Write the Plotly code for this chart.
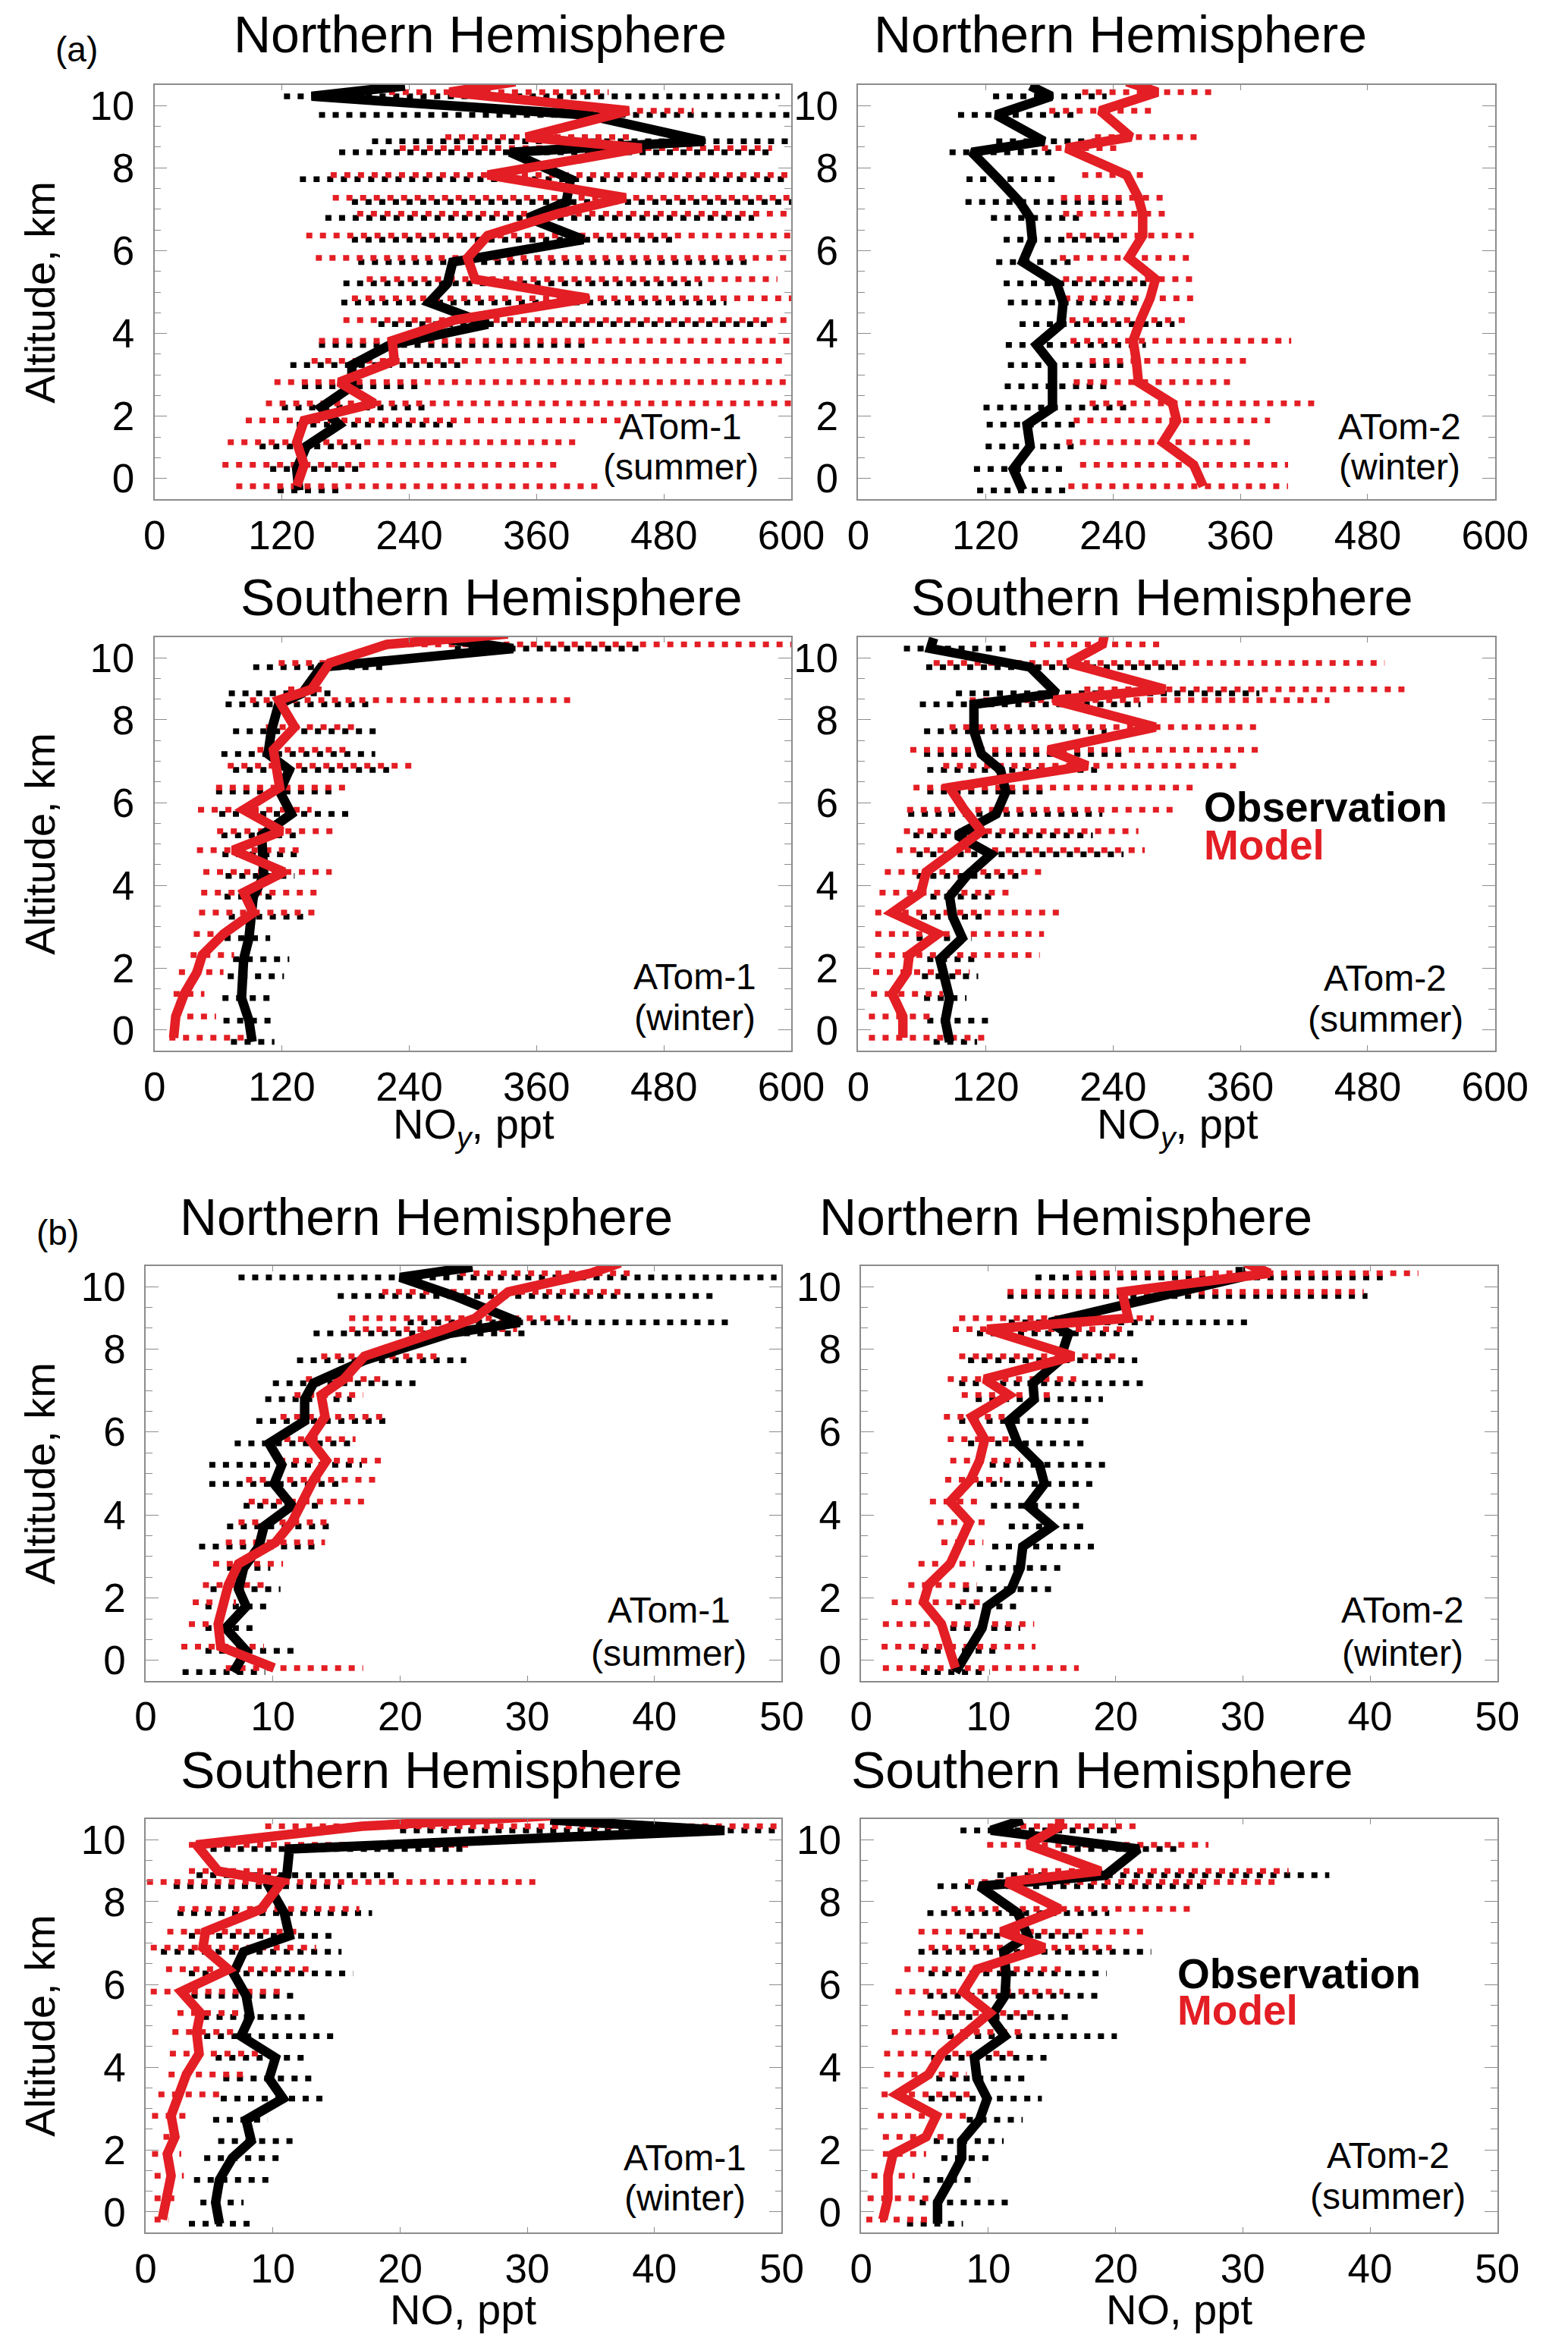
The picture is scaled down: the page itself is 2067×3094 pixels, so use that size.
import plotly.graph_objects as go
from plotly.subplots import make_subplots

W, H = 2067, 3094

# profile levels in plot units (bottom -> top); the axis labels 0..10 km sit at 0,3,7,11,15,18
LEVELS = [-0.47, 0.56, 1.65, 2.7, 3.53, 4.55, 5.58, 6.55, 7.55, 8.6,
          9.52, 10.55, 11.63, 12.68, 13.45, 14.55, 15.85, 16.38, 17.65, 18.55]
TOP_LEVEL = 19.05
ALT_TICKS = [0, 3, 7, 11, 15, 18]
ALT_LABELS = ["0", "2", "4", "6", "8", "10"]

NOY_TICKS = [0, 120, 240, 360, 480, 600]
NO_TICKS = [0, 10, 20, 30, 40, 50]

# ---- (a) NOy, ppt ----
# NH, ATom-1 (summer)
a_nh1_obs = [136, 134, 143, 174, 157, 186, 186, 222, 314, 259, 276, 281, 404, 352, 388, 392, 335, 518, 407, 148, 236]
a_nh1_mod = [134, 141, 134, 141, 207, 174, 226, 224, 283, 409, 302, 295, 314, 380, 444, 314, 459, 350, 447, 278, 340]
a_nh1_obs_lo = [116, 109, 99, 134, 120, 139, 128, 155, 211, 176, 178, 192, 186, 161, 186, 137, 174, 205, 155, 122]
a_nh1_obs_hi = [174, 193, 198, 281, 255, 248, 288, 409, 584, 539, 516, 565, 490, 565, 600, 600, 584, 600, 600, 589]
a_nh1_mod_lo = [77, 64, 69, 86, 105, 113, 148, 155, 178, 186, 200, 152, 143, 191, 168, 166, 231, 274, 326, 221]
a_nh1_mod_hi = [423, 380, 397, 444, 600, 596, 596, 600, 600, 600, 587, 600, 600, 600, 600, 600, 582, 454, 508, 428]

# NH, ATom-2 (winter)
a_nh2_obs = [155, 146, 162, 159, 183, 183, 183, 168, 191, 193, 187, 155, 164, 162, 152, 132, 107, 175, 130, 182, 162]
a_nh2_mod = [325, 316, 287, 300, 296, 264, 262, 259, 266, 275, 280, 255, 268, 268, 264, 253, 196, 257, 228, 282, 253]
a_nh2_obs_lo = [112, 109, 120, 121, 118, 138, 141, 139, 152, 141, 137, 130, 137, 125, 101, 102, 86, 130, 94, 127]
a_nh2_obs_hi = [200, 198, 205, 209, 257, 234, 253, 271, 298, 269, 275, 207, 246, 214, 253, 192, 184, 232, 203, 234]
a_nh2_mod_lo = [198, 209, 196, 203, 218, 203, 218, 200, 199, 194, 193, 190, 196, 193, 191, 211, 173, 223, 180, 211]
a_nh2_mod_hi = [405, 405, 370, 388, 435, 353, 367, 408, 313, 316, 316, 316, 316, 294, 291, 271, 248, 323, 280, 337]

# SH, ATom-1 (winter)
a_sh1_obs = [92, 89, 82, 82, 84, 89, 91, 93, 103, 101, 101, 129, 118, 127, 107, 110, 117, 139, 157, 338, 269]
a_sh1_mod = [18, 20, 28, 40, 45, 65, 93, 84, 122, 74, 120, 84, 118, 115, 112, 132, 117, 148, 165, 219, 333]
a_sh1_obs_lo = [72, 65, 64, 69, 74, 66, 70, 66, 67, 64, 63, 61, 58, 74, 63, 74, 67, 70, 93, 283]
a_sh1_obs_hi = [113, 115, 111, 122, 127, 109, 142, 117, 132, 140, 140, 185, 170, 221, 208, 210, 205, 169, 219, 463]
a_sh1_mod_lo = [14, 18, 18, 23, 34, 37, 42, 44, 46, 40, 59, 41, 58, 69, 97, 105, 90, 126, 117, 213]
a_sh1_mod_hi = [86, 58, 47, 65, 75, 74, 155, 153, 167, 141, 172, 148, 181, 249, 186, 195, 393, 160, 167, 600]

# SH, ATom-2 (summer)
a_sh2_obs = [86, 82, 86, 80, 77, 98, 89, 86, 102, 125, 93, 130, 139, 134, 116, 109, 109, 187, 162, 68, 71]
a_sh2_mod = [42, 42, 32, 46, 48, 75, 32, 59, 64, 91, 116, 100, 86, 216, 179, 280, 184, 289, 198, 230, 232]
a_sh2_obs_lo = [71, 65, 62, 60, 65, 55, 59, 68, 55, 55, 52, 47, 65, 65, 62, 62, 58, 92, 64, 43]
a_sh2_obs_hi = [112, 124, 102, 113, 114, 107, 123, 130, 152, 250, 221, 230, 178, 225, 248, 234, 266, 378, 307, 143]
a_sh2_mod_lo = [10, 10, 12, 14, 16, 16, 16, 20, 25, 36, 43, 46, 52, 80, 49, 86, 105, 213, 71, 162]
a_sh2_mod_hi = [122, 74, 80, 105, 171, 175, 190, 144, 175, 270, 264, 303, 320, 361, 378, 379, 444, 517, 496, 284]

# ---- (b) NO, ppt ----
b_nh1_obs = [6.9, 7.9, 6.3, 7.9, 7.3, 7.7, 8.9, 9.3, 11.5, 10.1, 10.7, 9.7, 12.5, 12.5, 13.2, 17.2, 23.9, 29.4, 24.3, 20.0, 25.7]
b_nh1_mod = [10.1, 5.9, 5.7, 6.1, 6.5, 7.3, 10.2, 11.5, 12.3, 13.2, 14.2, 12.9, 14.1, 13.8, 15.6, 17.2, 23.5, 25.9, 28.5, 35.0, 37.3]
b_nh1_obs_lo = [2.9, 4.7, 4.7, 4.7, 5.1, 6.4, 4.2, 6.4, 7.7, 5.0, 5.0, 7.0, 8.7, 9.4, 10.0, 11.9, 13.2, 20.6, 15.1, 7.3]
b_nh1_obs_hi = [9.4, 12.1, 8.7, 9.8, 10.6, 9.8, 13.6, 14.8, 14.1, 15.2, 17.0, 16.2, 19.1, 16.2, 21.3, 25.2, 30.2, 45.8, 44.9, 49.6]
b_nh1_mod_lo = [6.3, 2.8, 3.4, 3.7, 4.5, 5.3, 6.3, 7.3, 8.1, 7.9, 10.5, 10.9, 10.6, 11.7, 12.6, 13.8, 16.0, 16.0, 18.6, 24.7]
b_nh1_mod_hi = [17.1, 9.3, 6.9, 7.1, 9.7, 10.8, 14.1, 14.7, 17.5, 18.4, 18.8, 16.5, 19.0, 17.1, 18.8, 23.0, 29.2, 33.4, 37.9, 38.2]

b_nh2_obs = [7.4, 8.5, 9.5, 9.9, 11.8, 12.5, 12.7, 15.0, 13.1, 14.4, 14.0, 12.3, 11.6, 13.6, 13.5, 15.6, 16.3, 14.8, 23.2, 29.8, 29.8]
b_nh2_mod = [7.4, 6.8, 6.3, 4.9, 5.3, 7.0, 7.8, 8.5, 7.0, 8.6, 9.3, 9.7, 8.7, 11.6, 9.7, 16.7, 9.9, 21.0, 20.5, 32.1, 30.2]
b_nh2_obs_lo = [4.7, 4.7, 7.0, 7.4, 8.0, 9.8, 10.3, 11.6, 10.2, 9.1, 10.1, 8.4, 7.7, 9.0, 7.7, 8.4, 9.1, 11.6, 11.5, 13.7]
b_nh2_obs_hi = [10.1, 11.0, 12.5, 12.3, 15.4, 15.9, 18.8, 17.9, 17.6, 18.4, 19.4, 17.9, 18.1, 19.0, 22.7, 21.7, 21.5, 30.5, 39.8, 41.0]
b_nh2_mod_lo = [1.7, 1.6, 1.7, 2.4, 3.7, 4.5, 6.3, 6.0, 5.4, 6.6, 7.0, 6.8, 6.5, 7.9, 6.8, 7.7, 7.2, 7.7, 11.5, 16.9]
b_nh2_mod_hi = [17.1, 13.7, 13.6, 9.5, 9.1, 8.9, 9.6, 10.1, 9.4, 11.1, 12.5, 12.1, 12.9, 15.2, 16.9, 20.1, 20.5, 23.0, 39.5, 43.8]

b_sh1_obs = [5.8, 5.5, 5.8, 6.8, 8.3, 7.9, 10.8, 9.7, 10.2, 7.5, 8.2, 7.9, 6.9, 7.7, 11.3, 10.9, 9.7, 11.1, 11.3, 45.5, 31.8]
b_sh1_mod = [1.3, 1.7, 2.0, 1.7, 2.3, 2.0, 2.6, 3.2, 4.2, 4.0, 4.3, 2.8, 6.5, 4.5, 4.7, 9.1, 10.7, 5.7, 4.0, 17.0, 31.8]
b_sh1_obs_lo = [3.4, 4.3, 3.8, 4.6, 5.7, 5.3, 5.9, 6.1, 5.5, 4.6, 4.5, 3.6, 3.4, 1.2, 3.4, 2.5, 2.2, 4.0, 5.1, 20.0]
b_sh1_obs_hi = [8.7, 7.7, 10.2, 10.5, 11.6, 9.6, 14.2, 13.6, 12.9, 15.0, 12.8, 12.0, 16.3, 15.4, 14.6, 17.8, 15.4, 20.0, 25.1, 50.0]
b_sh1_mod_lo = [0.7, 0.7, 0.7, 0.5, 1.4, 0.5, 1.0, 1.8, 1.9, 2.1, 2.5, 0.4, 1.6, 0.4, 1.7, 2.6, 0.1, 3.4, 3.4, 9.4]
b_sh1_mod_hi = [1.8, 2.6, 3.0, 2.8, 2.6, 3.6, 6.2, 8.1, 10.1, 7.1, 7.5, 10.7, 12.8, 13.4, 11.9, 16.8, 31.2, 10.5, 25.5, 50.0]

b_sh2_obs = [6.0, 6.0, 7.0, 7.9, 7.9, 9.3, 9.9, 9.1, 8.9, 11.3, 10.2, 11.3, 11.4, 11.2, 13.1, 12.3, 9.3, 19.2, 21.8, 10.2, 12.7]
b_sh2_mod = [1.7, 2.1, 2.1, 2.5, 5.1, 5.9, 2.8, 5.3, 6.3, 8.2, 10.1, 8.0, 9.1, 14.4, 11.0, 15.6, 11.4, 18.8, 13.1, 15.6, 15.6]
b_sh2_obs_lo = [3.6, 4.6, 4.9, 6.3, 5.7, 8.3, 5.3, 5.9, 5.5, 6.8, 6.1, 5.2, 5.3, 4.5, 8.3, 5.2, 6.0, 10.7, 15.7, 7.8]
b_sh2_obs_hi = [8.0, 11.6, 9.2, 10.4, 11.2, 12.7, 14.2, 13.1, 14.9, 20.1, 16.4, 18.6, 19.3, 22.8, 17.6, 19.5, 27.2, 36.8, 25.1, 20.1]
b_sh2_mod_lo = [0.4, 0.5, 0.8, 1.7, 1.7, 1.3, 1.6, 1.8, 1.8, 2.4, 3.4, 2.7, 3.4, 5.3, 4.5, 7.1, 8.4, 13.1, 9.9, 12.5]
b_sh2_mod_hi = [5.9, 5.7, 4.2, 5.1, 6.8, 8.5, 9.1, 8.3, 12.1, 12.8, 13.6, 15.9, 15.9, 19.7, 22.6, 26.2, 32.7, 33.6, 27.3, 22.0]

RED = "#e31e24"
FRAME = "#8c8c8c"
FONT = "Liberation Sans, Arial, sans-serif"
OFF = 0.1  # obs drawn slightly below, model slightly above each level


def px(x, y):
    # page pixels -> paper coords (small upward nudge for text baseline)
    return x / W, 1 - (y - 9) / H


# panel frames in page pixels: (left, top, right, bottom)
panels = [
    dict(data=(a_nh1_obs, a_nh1_mod, a_nh1_obs_lo, a_nh1_obs_hi, a_nh1_mod_lo, a_nh1_mod_hi),
         box=(186, 102, 1050, 649), xr=600, ticks=NOY_TICKS, title="Northern Hemisphere", tpos=(628, 44),
         camp=("ATom-1", "(summer)"), cpos=(900, 562, 615)),
    dict(data=(a_nh2_obs, a_nh2_mod, a_nh2_obs_lo, a_nh2_obs_hi, a_nh2_mod_lo, a_nh2_mod_hi),
         box=(1141, 102, 2005, 649), xr=600, ticks=NOY_TICKS, title="Northern Hemisphere", tpos=(1497, 44),
         camp=("ATom-2", "(winter)"), cpos=(1876, 562, 615)),
    dict(data=(a_sh1_obs, a_sh1_mod, a_sh1_obs_lo, a_sh1_obs_hi, a_sh1_mod_lo, a_sh1_mod_hi),
         box=(186, 831, 1050, 1377), xr=600, ticks=NOY_TICKS, title="Southern Hemisphere", tpos=(643, 787),
         camp=("ATom-1", "(winter)"), cpos=(919, 1288, 1342)),
    dict(data=(a_sh2_obs, a_sh2_mod, a_sh2_obs_lo, a_sh2_obs_hi, a_sh2_mod_lo, a_sh2_mod_hi),
         box=(1141, 831, 2005, 1377), xr=600, ticks=NOY_TICKS, title="Southern Hemisphere", tpos=(1553, 787),
         camp=("ATom-2", "(summer)"), cpos=(1856, 1290, 1344)),
    dict(data=(b_nh1_obs, b_nh1_mod, b_nh1_obs_lo, b_nh1_obs_hi, b_nh1_mod_lo, b_nh1_mod_hi),
         box=(174, 1661, 1037, 2209), xr=50, ticks=NO_TICKS, title="Northern Hemisphere", tpos=(555, 1605),
         camp=("ATom-1", "(summer)"), cpos=(884, 2124, 2181)),
    dict(data=(b_nh2_obs, b_nh2_mod, b_nh2_obs_lo, b_nh2_obs_hi, b_nh2_mod_lo, b_nh2_mod_hi),
         box=(1145, 1661, 2008, 2209), xr=50, ticks=NO_TICKS, title="Northern Hemisphere", tpos=(1423, 1605),
         camp=("ATom-2", "(winter)"), cpos=(1880, 2124, 2181)),
    dict(data=(b_sh1_obs, b_sh1_mod, b_sh1_obs_lo, b_sh1_obs_hi, b_sh1_mod_lo, b_sh1_mod_hi),
         box=(174, 2391, 1037, 2937), xr=50, ticks=NO_TICKS, title="Southern Hemisphere", tpos=(562, 2335),
         camp=("ATom-1", "(winter)"), cpos=(906, 2847, 2900)),
    dict(data=(b_sh2_obs, b_sh2_mod, b_sh2_obs_lo, b_sh2_obs_hi, b_sh2_mod_lo, b_sh2_mod_hi),
         box=(1145, 2391, 2008, 2937), xr=50, ticks=NO_TICKS, title="Southern Hemisphere", tpos=(1472, 2335),
         camp=("ATom-2", "(summer)"), cpos=(1860, 2844, 2898)),
]

fig = make_subplots(rows=4, cols=2)
annotations = []


def note(x, y, text, size, color="black", xanchor="center", **kw):
    ax, ay = px(x, y)
    annotations.append(dict(x=ax, y=ay, xref="paper", yref="paper", text=text, showarrow=False,
                            xanchor=xanchor, yanchor="middle",
                            font=dict(family=FONT, size=size, color=color), **kw))


def bars(lo, hi, off):
    xs, ys = [], []
    for a, b, lev in zip(lo, hi, LEVELS):
        xs += [a, b, None]
        ys += [lev + off, lev + off, None]
    return xs, ys


for i, p in enumerate(panels):
    row, col = i // 2 + 1, i % 2 + 1
    obs, mod, olo, ohi, mlo, mhi = p["data"]
    prof_y = LEVELS + [TOP_LEVEL]

    bx, by = bars(olo, ohi, -OFF)
    fig.add_trace(go.Scatter(x=bx, y=by, mode="lines", hoverinfo="skip",
                             line=dict(color="black", width=7.5, dash="8px,10px")), row=row, col=col)
    bx, by = bars(mlo, mhi, OFF)
    fig.add_trace(go.Scatter(x=bx, y=by, mode="lines", hoverinfo="skip",
                             line=dict(color=RED, width=7.5, dash="8px,10px")), row=row, col=col)
    fig.add_trace(go.Scatter(x=obs, y=[v - OFF for v in prof_y], mode="lines", name="Observation",
                             line=dict(color="black", width=12.5)), row=row, col=col)
    fig.add_trace(go.Scatter(x=mod, y=[v + OFF for v in prof_y], mode="lines", name="Model",
                             line=dict(color=RED, width=12.5)), row=row, col=col)

    l, t, r, b = p["box"]
    fig.update_xaxes(domain=[l / W, r / W], range=[0, p["xr"]], tickmode="array", tickvals=p["ticks"],
                     ticks="inside", ticklen=7, tickcolor=FRAME, showline=True, linecolor=FRAME, linewidth=1.5,
                     mirror="allticks", showgrid=False, zeroline=False, ticklabelstandoff=0,
                     tickfont=dict(family=FONT, size=53, color="black"), row=row, col=col)
    fig.update_yaxes(domain=[1 - b / H, 1 - t / H], range=[-1, 19], tickmode="array", tickvals=ALT_TICKS,
                     ticktext=ALT_LABELS, ticks="inside", ticklen=17, tickcolor=FRAME,
                     minor=dict(tickmode="linear", tick0=0, dtick=1, ticks="inside", ticklen=9, tickcolor=FRAME),
                     showline=True, linecolor=FRAME, linewidth=1.5, mirror="allticks", showgrid=False,
                     zeroline=False, ticklabelstandoff=14,
                     tickfont=dict(family=FONT, size=53, color="black"), row=row, col=col)

    note(*p["tpos"], p["title"], 68)
    cx, cy1, cy2 = p["cpos"]
    note(cx, cy1, p["camp"][0], 48)
    note(cx, cy2, p["camp"][1], 48)

# y-axis titles on left panels
for yc in [376, 1104, 1935, 2664]:
    note(30, yc + 9, "Altitude, km", 56, textangle=-90)

# x-axis titles on bottom panels of each group
for xc, yc, txt in [(619, 1486, "NO<sub><i>y</i></sub>, ppt"), (1574, 1486, "NO<sub><i>y</i></sub>, ppt"),
                    (605, 3047, "NO, ppt"), (1577, 3047, "NO, ppt")]:
    note(xc, yc, txt, 56)

# panel letters
note(80, 64, "(a)", 46)
note(55, 1626, "(b)", 46)

# legend text
for xc, yo, ym in [(1608, 1064, 1114), (1572, 2604, 2652)]:
    note(xc, yo, "<b>Observation</b>", 55, xanchor="left")
    note(xc, ym, "<b>Model</b>", 55, color=RED, xanchor="left")

fig.update_layout(width=W, height=H, margin=dict(l=0, r=0, t=0, b=0), showlegend=False,
                  plot_bgcolor="white", paper_bgcolor="white", annotations=annotations)

fig.write_html("out.html")
